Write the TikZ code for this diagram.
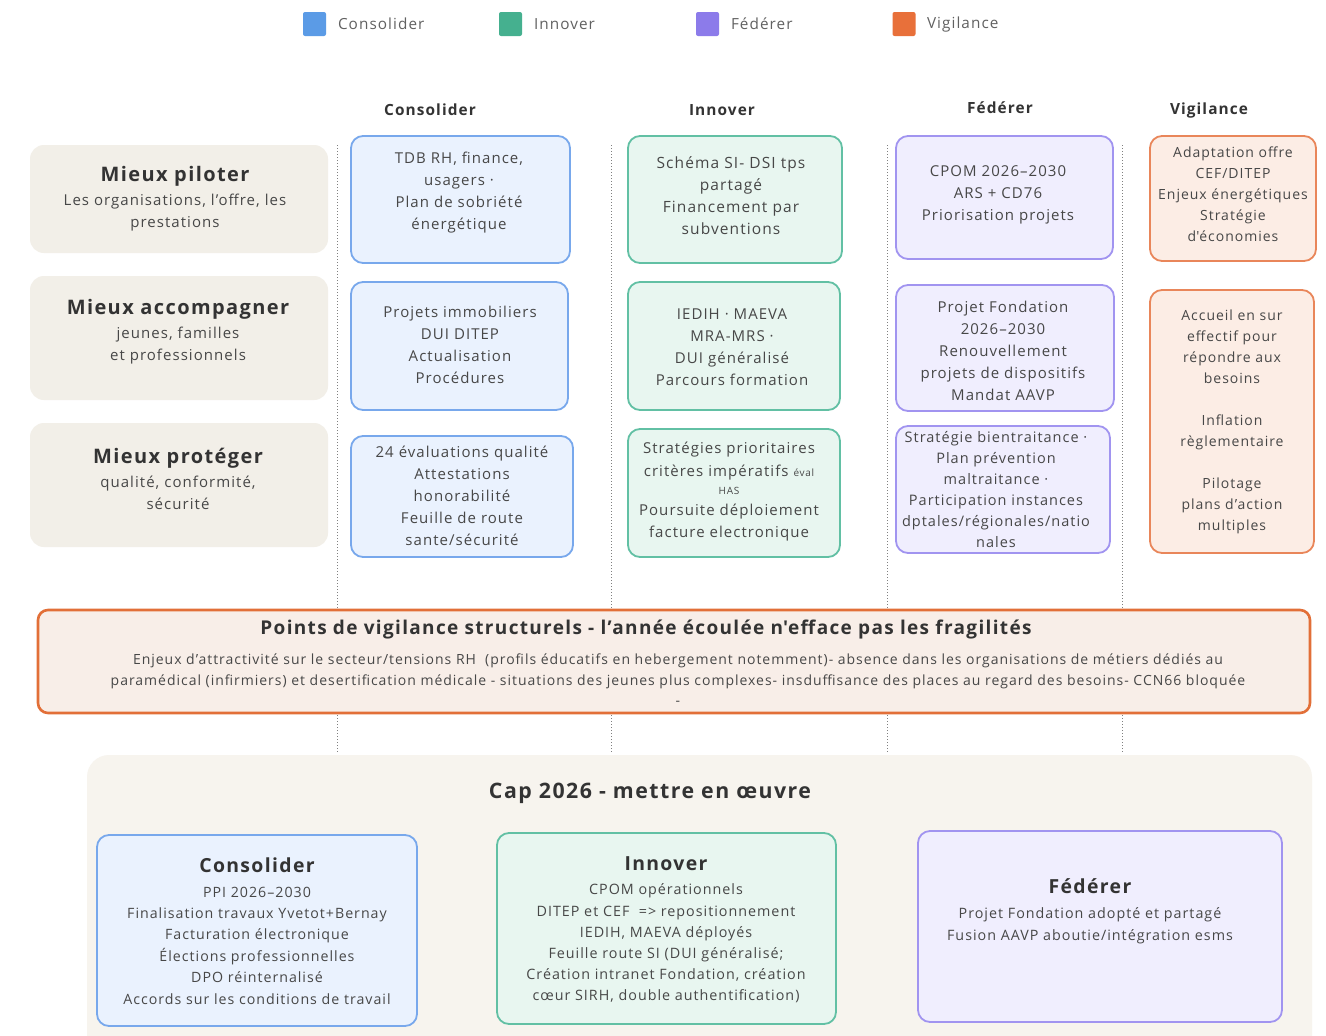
\documentclass[tikz,border=0pt]{standalone}
\usepackage{fontspec}
\setmainfont{Open Sans}[LetterSpace=7]
\newfontfamily\aposfont{Open Sans}[LetterSpace=7]
\newcommand{\sq}{{\aposfont'}}
\definecolor{cbS}{HTML}{78A8EC}\definecolor{cbF}{HTML}{EAF2FE}
\definecolor{gnS}{HTML}{62C0A4}\definecolor{gnF}{HTML}{E8F6F0}
\definecolor{puS}{HTML}{A194F0}\definecolor{puF}{HTML}{F0EEFE}
\definecolor{orS}{HTML}{E9865A}\definecolor{orF}{HTML}{FCEDE5}
\definecolor{bandS}{HTML}{E26F38}\definecolor{bandF}{HTML}{F8EEE8}
\definecolor{beige}{HTML}{F2EFE8}\definecolor{capF}{HTML}{F7F4EE}
\definecolor{lgB}{HTML}{5B9BE6}\definecolor{lgG}{HTML}{45B08F}
\definecolor{lgP}{HTML}{8C7BEA}\definecolor{lgO}{HTML}{E8703A}
\definecolor{txt}{HTML}{474747}\definecolor{ttl}{HTML}{333333}
\tikzset{
  every node/.style={inner sep=0pt, outer sep=0pt, text=txt},
  body/.style={align=center, font=\fontsize{15}{22}\selectfont},
  bluebox/.style={body, draw=cbS, fill=cbF, line width=1.8pt, rounded corners=12pt},
  greenbox/.style={body, draw=gnS, fill=gnF, line width=1.8pt, rounded corners=12pt},
  purplebox/.style={body, draw=puS, fill=puF, line width=1.8pt, rounded corners=12pt},
  orangebox/.style={body, draw=orS, fill=orF, line width=1.8pt, rounded corners=12pt},
  leftbox/.style={fill=beige, rounded corners=14pt, align=center},
  colhead/.style={font=\fontsize{15.4}{18}\selectfont\bfseries, text=ttl},
  legsq/.style={minimum width=23pt, minimum height=24pt, rounded corners=2pt},
  legtxt/.style={anchor=west, font=\fontsize{15.3}{18}\selectfont, text=black!62},
  sep/.style={draw=black!50, dotted, line width=1pt},
}
\newcommand{\bigttl}[1]{{\fontsize{20}{26}\selectfont\bfseries\color{ttl}#1}}
\newcommand{\capttl}[1]{{\fontsize{19.4}{26}\selectfont\bfseries\color{ttl}#1}}
\begin{document}
\begin{tikzpicture}[x=1pt,y=-1pt]
\useasboundingbox[fill=white] (0,0) rectangle (1326,1036);

% legend
\node[legsq, fill=lgB] (lg1) at (314.5,24) {};
\node[legtxt] (lt1) at (338,24) {Consolider};
\node[legsq, fill=lgG] (lg2) at (510.5,24) {};
\node[legtxt] (lt2) at (534,24) {Innover};
\node[legsq, fill=lgP] (lg3) at (707.5,24) {};
\node[legtxt] (lt3) at (731,24) {Fédérer};
\node[legsq, fill=lgO] (lg4) at (904,24) {};
\node[legtxt] (lt4) at (927,25) {Vigilance};

% column headers
\node[colhead] (h1) at (430,110) {Consolider};
\node[colhead] (h2) at (722,110) {Innover};
\node[colhead] (h3) at (1000,108) {Fédérer};
\node[colhead] (h4) at (1209,110) {Vigilance};

% dotted separators
\foreach \xx in {337,611,887,1122} \draw[sep] (\xx,145) -- (\xx,752);

% left boxes
\node[leftbox, minimum width=298pt, minimum height=108pt] (m1) at (179,199) {};
\node[align=center, font=\fontsize{15}{22}\selectfont] (m1t) at (175,199) {\bigttl{Mieux piloter}\\[2pt]Les organisations, l’offre, les\\prestations};
\node[leftbox, minimum width=298pt, minimum height=124pt] (m2) at (179,338) {};
\node[align=center, font=\fontsize{15}{22}\selectfont] (m2t) at (178,332) {\bigttl{Mieux accompagner}\\[2pt]jeunes, familles\\et professionnels};
\node[leftbox, minimum width=298pt, minimum height=124pt] (m3) at (179,485) {};
\node[align=center, font=\fontsize{15}{22}\selectfont] (m3t) at (178,479) {\bigttl{Mieux protéger}\\[2pt]qualité, conformité,\\sécurité};

% Consolider column
\node[bluebox, minimum width=219pt, minimum height=127pt] (c1) at (460.5,199.5) {};
\node[body] (c1t) at (459,193) {TDB RH, finance,\\usagers ·\\Plan de sobriété\\énergétique};
\node[bluebox, minimum width=217pt, minimum height=128pt] (c2) at (459.5,346) {};
\node[body] (c2t) at (460,345) {Projets immobiliers\\DUI DITEP\\Actualisation\\Procédures};
\node[bluebox, minimum width=222pt, minimum height=121pt] (c3) at (462,496.5) {};
\node[body] (c3t) at (462,496) {24 évaluations qualité\\Attestations\\honorabilité\\Feuille de route\\sante/sécurité};

% Innover column
\node[greenbox, minimum width=214pt, minimum height=127pt] (i1) at (735,199.5) {};
\node[body, font=\fontsize{15.5}{22}\selectfont] (i1t) at (731,196) {Schéma SI- DSI tps\\partagé\\Financement par\\subventions};
\node[greenbox, minimum width=212pt, minimum height=128pt] (i2) at (734,346) {};
\node[body] (i2t) at (732,347) {IEDIH · MAEVA\\MRA-MRS ·\\DUI généralisé\\Parcours formation};
\node[greenbox, minimum width=212pt, minimum height=128pt] (i3) at (734,493) {};
\node[body] (i3a) at (729,450) {Stratégies prioritaires};
\node[body] (i3b) at (729,473) {critères impératifs {\fontsize{10}{12}\selectfont éval}};
\node[body, font=\fontsize{10}{12}\selectfont] (i3c) at (729,491) {HAS};
\node[body] (i3d) at (729,512) {Poursuite déploiement};
\node[body] (i3e) at (729,534) {facture electronique};

% Federer column
\node[purplebox, minimum width=217pt, minimum height=123pt] (f1) at (1004.5,197.5) {};
\node[body] (f1t) at (998,195) {CPOM 2026–2030\\ARS + CD76\\Priorisation projets};
\node[purplebox, minimum width=218pt, minimum height=126pt] (f2) at (1005,348) {};
\node[body] (f2t) at (1003,351) {Projet Fondation\\2026–2030\\Renouvellement\\projets de dispositifs\\Mandat AAVP};
\node[purplebox, minimum width=214pt, minimum height=127pt] (f3) at (1003,489.5) {};
\node[body, font=\fontsize{14.5}{21}\selectfont] (f3t) at (996,490) {Stratégie bientraitance ·\\Plan prévention\\maltraitance ·\\Participation instances\\dptales/régionales/natio\\nales};

% Vigilance column
\node[orangebox, minimum width=166pt, minimum height=125pt] (v1) at (1233,198.5) {};
\node[body, font=\fontsize{14}{21}\selectfont] (v1t) at (1233,194) {Adaptation offre\\CEF/DITEP\\Enjeux énergétiques\\Stratégie\\d\sq économies};
\node[orangebox, minimum width=164pt, minimum height=263pt] (v2) at (1232,421.5) {};
\node[body, font=\fontsize{14}{21}\selectfont] (v2t) at (1232,422) {Accueil en sur\\effectif pour\\répondre aux\\besoins\\[21pt]Inflation\\règlementaire\\[21pt]Pilotage\\plans d’action\\multiples};

% vigilance band
\node[draw=bandS, fill=bandF, line width=2.6pt, rounded corners=10pt, minimum width=1272pt, minimum height=103pt] (band) at (674,661.5) {};
\node[font=\fontsize{19}{24}\selectfont\bfseries, text=ttl] (bandt) at (646,629) {Points de vigilance structurels - l’année écoulée n\sq efface pas les fragilités};
\node[align=center, font=\fontsize{14}{20.5}\selectfont] (bandb) at (678,680) {Enjeux d’attractivité sur le secteur/tensions RH\ \ (profils éducatifs en hebergement notemment)- absence dans les organisations de métiers dédiés au\\paramédical (infirmiers) et desertification médicale - situations des jeunes plus complexes- insduffisance des places au regard des besoins- CCN66 bloquée\\-};

% Cap 2026
\path[fill=capF, rounded corners=22pt] (87,755) rectangle (1312,1070);
\node[font=\fontsize{21.3}{28}\selectfont\bfseries, text=ttl] (capt) at (650,793) {Cap 2026 - mettre en œuvre};

\node[bluebox, minimum width=320pt, minimum height=191pt] (k1) at (257,930.5) {};
\node[align=center, font=\fontsize{14.2}{21.4}\selectfont] (k1t) at (257,931) {\capttl{Consolider}\\[3pt]PPI 2026–2030\\Finalisation travaux Yvetot+Bernay\\Facturation électronique\\Élections professionnelles\\DPO réinternalisé\\Accords sur les conditions de travail};
\node[greenbox, minimum width=339pt, minimum height=191pt] (k2) at (666.5,928.5) {};
\node[align=center, font=\fontsize{14.3}{21.2}\selectfont] (k2t) at (666,930) {\capttl{Innover}\\[3pt]CPOM opérationnels\\DITEP et CEF \ => repositionnement\\IEDIH, MAEVA déployés\\Feuille route SI (DUI généralisé;\\Création intranet Fondation, création\\cœur SIRH, double authentification)};
\node[purplebox, minimum width=364pt, minimum height=191pt] (k3) at (1100,926.5) {};
\node[align=center, font=\fontsize{14.3}{22}\selectfont] (k3t) at (1090,911) {\capttl{Fédérer}\\[3pt]Projet Fondation adopté et partagé\\Fusion AAVP aboutie/intégration esms};
\end{tikzpicture}
\end{document}
